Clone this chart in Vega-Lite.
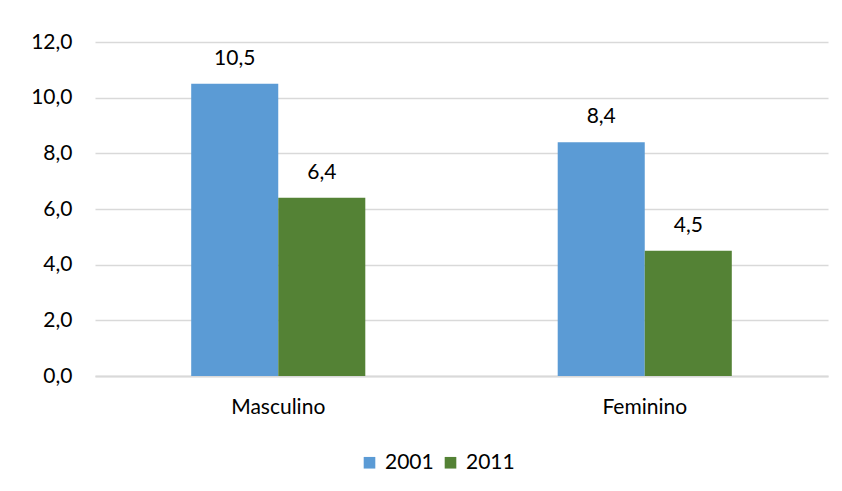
{
  "$schema": "https://vega.github.io/schema/vega-lite/v6.json",
  "width": 733,
  "height": 334,
  "autosize": {"type": "none"},
  "padding": {"left": 95, "top": 42, "right": 14, "bottom": 115},
  "background": "white",
  "config": {
    "locale": {"number": {"decimal": ",", "thousands": ".", "grouping": [3], "currency": ["", " €"]}},
    "font": "Lato",
    "view": {"stroke": null}
  },
  "data": {
    "values": [
      {"sexo": "Masculino", "ano": "2001", "valor": 10.5},
      {"sexo": "Masculino", "ano": "2011", "valor": 6.4},
      {"sexo": "Feminino", "ano": "2001", "valor": 8.4},
      {"sexo": "Feminino", "ano": "2011", "valor": 4.5}
    ]
  },
  "encoding": {
    "x": {
      "field": "sexo", "type": "nominal", "sort": ["Masculino", "Feminino"],
      "scale": {"paddingInner": 0.525, "paddingOuter": 0.2625},
      "axis": {"title": null, "labelAngle": 0, "labelFontSize": 21, "labelColor": "#000000", "labelPadding": 20, "ticks": false, "domainColor": "#d9d9d9", "domainWidth": 2, "labelFont": "Lato"}
    },
    "xOffset": {"field": "ano", "type": "nominal"},
    "y": {
      "field": "valor", "type": "quantitative",
      "scale": {"domain": [0, 12]},
      "axis": {"title": null, "values": [0, 2, 4, 6, 8, 10, 12], "format": ".1f", "labelFontSize": 21, "labelColor": "#000000", "labelPadding": 23, "ticks": false, "domain": false, "gridColor": "#d9d9d9", "gridWidth": 1.5, "labelFont": "Lato"}
    }
  },
  "layer": [
    {
      "mark": {"type": "bar"},
      "encoding": {
        "color": {
          "field": "ano", "type": "nominal",
          "scale": {"domain": ["2001", "2011"], "range": ["#5B9BD5", "#548235"]},
          "legend": {"title": null, "orient": "none", "legendX": 264, "legendY": 410, "direction": "horizontal", "symbolType": "square", "symbolSize": 135, "symbolStrokeWidth": 0, "labelFontSize": 21, "labelColor": "#000000", "columnPadding": 6, "labelOffset": 5, "labelFont": "Lato"}
        }
      }
    },
    {
      "mark": {"type": "text", "baseline": "bottom", "dy": -15, "fontSize": 21, "color": "#000000", "font": "Lato"},
      "encoding": {
        "text": {"field": "valor", "type": "quantitative", "format": ".1f"}
      }
    }
  ]
}
